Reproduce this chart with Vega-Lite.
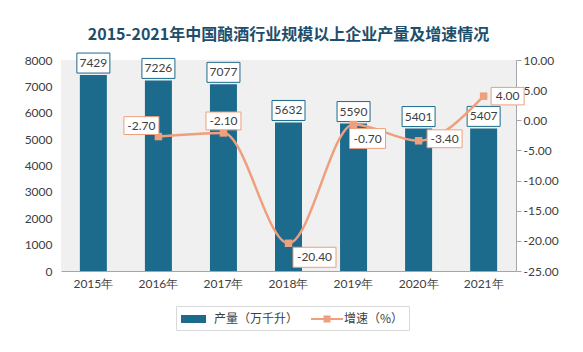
{
  "$schema": "https://vega.github.io/schema/vega-lite/v6.json",
  "width": 455,
  "height": 211,
  "autosize": {"type": "none"},
  "padding": {"left": 61, "top": 60, "right": 67, "bottom": 81},
  "background": "#ffffff",
  "title": {
    "text": "2015-2021年中国酿酒行业规模以上企业产量及增速情况",
    "font": "Noto Sans CJK SC",
    "fontSize": 16,
    "fontWeight": "bold",
    "color": "#1d4e6b",
    "anchor": "middle",
    "offset": 8
  },
  "datasets": {
    "prod": [
      {"year": "2015年", "value": 7429},
      {"year": "2016年", "value": 7226},
      {"year": "2017年", "value": 7077},
      {"year": "2018年", "value": 5632},
      {"year": "2019年", "value": 5590},
      {"year": "2020年", "value": 5401},
      {"year": "2021年", "value": 5407}
    ],
    "growth": [
      {"year": "2016年", "rate": -2.7},
      {"year": "2017年", "rate": -2.1},
      {"year": "2018年", "rate": -20.4},
      {"year": "2019年", "rate": -0.7},
      {"year": "2020年", "rate": -3.4},
      {"year": "2021年", "rate": 4.0}
    ]
  },
  "encoding": {
    "x": {
      "field": "year",
      "type": "ordinal",
      "scale": {"paddingInner": 0.585, "paddingOuter": 0.29},
      "axis": {
        "title": null,
        "labelAngle": 0,
        "ticks": false,
        "domainColor": "#a6a6a6",
        "labelPadding": 7,
        "labelFont": "Lato",
        "labelFontSize": 12,
        "labelColor": "#404040"
      }
    }
  },
  "layer": [
    {
      "data": {"name": "prod"},
      "encoding": {
        "y": {
          "field": "value",
          "type": "quantitative",
          "scale": {"domain": [0, 8000], "nice": false, "zero": true},
          "axis": {
            "title": null,
            "values": [0, 1000, 2000, 3000, 4000, 5000, 6000, 7000, 8000],
            "format": "d",
            "domain": false,
            "ticks": false,
            "grid": false,
            "labelPadding": 9,
            "labelFont": "Lato",
            "labelFontSize": 12,
            "labelColor": "#404040"
          }
        }
      },
      "layer": [
        {
          "mark": {"type": "bar", "color": "#1c6a8c"},
          "encoding": {
            "color": {
              "datum": "产量（万千升）",
              "type": "nominal",
              "scale": {
                "domain": ["产量（万千升）", "增速（%）"],
                "range": ["#1c6a8c", "#ee9f7d"]
              },
              "legend": {
                "title": null,
                "orient": "none",
                "legendX": 115,
                "legendY": 246,
                "direction": "horizontal",
                "columns": 2,
                "padding": 5,
                "strokeColor": "#d9d9d9",
                "fillColor": "#ffffff",
                "symbolSize": 256,
                "labelOffset": 17,
                "columnPadding": 12,
                "labelFont": "Noto Sans CJK SC",
                "labelFontSize": 12,
                "labelColor": "#404040",
                "encode": {
                  "symbols": {
                    "update": {
                      "shape": {"signal": "datum.value === '增速（%）' ? 'M-1,-0.125L0.56,-0.125L0.56,-0.44L1.44,-0.44L1.44,-0.125L3,-0.125L3,0.125L1.44,0.125L1.44,0.44L0.56,0.44L0.56,0.125L-1,0.125Z' : 'M-1,-0.5L2.125,-0.5L2.125,0.5L-1,0.5Z'"},
                      "fill": {"signal": "datum.value === '增速（%）' ? '#ee9f7d' : '#1c6a8c'"},
                      "stroke": {"value": "transparent"},
                      "strokeWidth": {"value": 0},
                      "opacity": {"value": 1},
                      "fillOpacity": {"value": 1}
                    }
                  }
                }
              }
            }
          }
        },
        {
          "mark": {
            "type": "point",
            "shape": "M-1,-0.606L1,-0.606L1,0.606L-1,0.606Z",
            "size": 1089,
            "filled": true,
            "fill": "#ffffff",
            "stroke": "#1c6a8c",
            "strokeWidth": 1,
            "opacity": 1,
            "yOffset": -12
          }
        },
        {
          "mark": {
            "type": "text",
            "dy": -12,
            "font": "Lato",
            "fontSize": 12,
            "color": "#404040"
          },
          "encoding": {"text": {"field": "value", "type": "quantitative", "format": "d"}}
        }
      ]
    },
    {
      "data": {"name": "growth"},
      "encoding": {
        "y": {
          "field": "rate",
          "type": "quantitative",
          "scale": {"domain": [-25, 10], "nice": false, "zero": false},
          "axis": {
            "orient": "right",
            "title": null,
            "values": [-25, -20, -15, -10, -5, 0, 5, 10],
            "format": ".2f",
            "domain": true,
            "domainColor": "#a6a6a6",
            "ticks": true,
            "tickColor": "#a6a6a6",
            "tickSize": 5,
            "labelPadding": 2,
            "grid": false,
            "labelFont": "Lato",
            "labelFontSize": 12,
            "labelColor": "#404040"
          }
        }
      },
      "layer": [
        {
          "mark": {"type": "line", "interpolate": "monotone", "strokeWidth": 2.5},
          "encoding": {"color": {"datum": "增速（%）", "type": "nominal"}}
        },
        {
          "mark": {"type": "point", "shape": "square", "size": 56, "filled": true, "color": "#ee9f7d", "opacity": 1}
        },
        {
          "transform": [{"filter": "datum.year === '2016年'"}],
          "layer": [
            {"mark": {"type": "point", "shape": "M-1,-0.51L1,-0.51L1,0.51L-1,0.51Z", "size": 1225, "filled": true, "fill": "#ffffff", "stroke": "#ee9f7d", "strokeWidth": 1, "opacity": 1, "xOffset": -17, "yOffset": -11}},
            {"mark": {"type": "text", "dx": -17, "dy": -11, "font": "Lato", "fontSize": 12, "color": "#404040"}, "encoding": {"text": {"field": "rate", "type": "quantitative", "format": ".2f"}}}
          ]
        },
        {
          "transform": [{"filter": "datum.year === '2017年'"}],
          "layer": [
            {"mark": {"type": "point", "shape": "M-1,-0.51L1,-0.51L1,0.51L-1,0.51Z", "size": 1225, "filled": true, "fill": "#ffffff", "stroke": "#ee9f7d", "strokeWidth": 1, "opacity": 1, "xOffset": 0, "yOffset": -12}},
            {"mark": {"type": "text", "dx": 0, "dy": -12, "font": "Lato", "fontSize": 12, "color": "#404040"}, "encoding": {"text": {"field": "rate", "type": "quantitative", "format": ".2f"}}}
          ]
        },
        {
          "transform": [{"filter": "datum.year === '2018年'"}],
          "layer": [
            {"mark": {"type": "point", "shape": "M-1,-0.465L1,-0.465L1,0.465L-1,0.465Z", "size": 1849, "filled": true, "fill": "#ffffff", "stroke": "#ee9f7d", "strokeWidth": 1, "opacity": 1, "xOffset": 26, "yOffset": 14}},
            {"mark": {"type": "text", "dx": 26, "dy": 14, "font": "Lato", "fontSize": 12, "color": "#404040"}, "encoding": {"text": {"field": "rate", "type": "quantitative", "format": ".2f"}}}
          ]
        },
        {
          "transform": [{"filter": "datum.year === '2019年'"}],
          "layer": [
            {"mark": {"type": "point", "shape": "M-1,-0.55L1,-0.55L1,0.55L-1,0.55Z", "size": 1296, "filled": true, "fill": "#ffffff", "stroke": "#ee9f7d", "strokeWidth": 1, "opacity": 1, "xOffset": 14, "yOffset": 14}},
            {"mark": {"type": "text", "dx": 14, "dy": 14, "font": "Lato", "fontSize": 12, "color": "#404040"}, "encoding": {"text": {"field": "rate", "type": "quantitative", "format": ".2f"}}}
          ]
        },
        {
          "transform": [{"filter": "datum.year === '2020年'"}],
          "layer": [
            {"mark": {"type": "point", "shape": "M-1,-0.51L1,-0.51L1,0.51L-1,0.51Z", "size": 1225, "filled": true, "fill": "#ffffff", "stroke": "#ee9f7d", "strokeWidth": 1, "opacity": 1, "xOffset": 26, "yOffset": -2}},
            {"mark": {"type": "text", "dx": 26, "dy": -2, "font": "Lato", "fontSize": 12, "color": "#404040"}, "encoding": {"text": {"field": "rate", "type": "quantitative", "format": ".2f"}}}
          ]
        },
        {
          "transform": [{"filter": "datum.year === '2021年'"}],
          "layer": [
            {"mark": {"type": "point", "shape": "M-1,-0.53L1,-0.53L1,0.53L-1,0.53Z", "size": 1089, "filled": true, "fill": "#ffffff", "stroke": "#ee9f7d", "strokeWidth": 1, "opacity": 1, "xOffset": 24, "yOffset": 0}},
            {"mark": {"type": "text", "dx": 24, "dy": 0, "font": "Lato", "fontSize": 12, "color": "#404040"}, "encoding": {"text": {"field": "rate", "type": "quantitative", "format": ".2f"}}}
          ]
        }
      ]
    }
  ],
  "resolve": {"scale": {"y": "independent"}},
  "config": {
    "view": {"fill": "#f0f0f0", "stroke": null},
    "locale": {
      "number": {
        "decimal": ".",
        "thousands": ",",
        "grouping": [3],
        "currency": ["$", ""],
        "minus": "-"
      }
    }
  }
}
